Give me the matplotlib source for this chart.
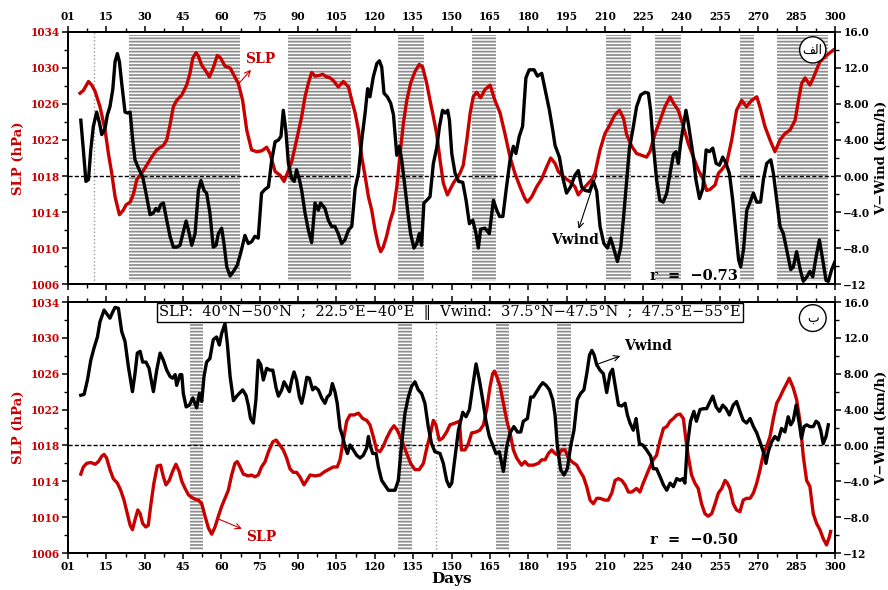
import matplotlib
matplotlib.use("Agg")
from matplotlib import pyplot as plt
from matplotlib.ticker import FixedLocator, FixedFormatter, MultipleLocator

RED = "#c80000"

# day ticks (the first one is printed as "01")
day_ticks = [0, 15, 30, 45, 60, 75, 90, 105, 120, 135, 150, 165, 180, 195, 210, 225, 240, 255, 270, 285, 300]
day_labels = ["01", "15", "30", "45", "60", "75", "90", "105", "120", "135", "150",
              "165", "180", "195", "210", "225", "240", "255", "270", "285", "300"]
slp_ticks = [1006, 1010, 1014, 1018, 1022, 1026, 1030, 1034]
vw_ticks = [-12, -8, -4, 0, 4, 8, 12, 16]
vw_labels = ["\u221212", "\u22128.0", "\u22124.0", "0.00", "4.00", "8.00", "12.0", "16.0"]

# ---- panel (a) ----
top_slp_days = [4.7, 6.0, 8.0, 9.3, 10.6, 12.5, 14.5, 15.8, 17.1, 18.4, 20.1, 21.6, 22.7, 24.3, 25.6,
                26.9, 28.8, 30.8, 32.7, 34.7, 37.3, 38.6, 39.9, 41.2, 42.5, 44.5, 46.4, 47.7, 48.8,
                50.1, 51.0, 52.3, 53.6, 55.3, 56.8, 58.4, 59.7, 61.4, 63.4, 65.3, 66.6, 68.3, 69.9,
                71.8, 73.8, 75.8, 77.7, 79.0, 81.0, 82.9, 84.5, 85.5, 87.5, 89.4, 91.4, 92.7, 94.0,
                95.3, 96.6, 98.6, 99.6, 101.2, 102.5, 103.8, 105.7, 107.7, 109.7, 111.0, 112.3,
                113.6, 114.9, 116.2, 117.5, 118.8, 120.1, 121.4, 122.3, 123.3, 124.6, 125.9, 127.3,
                128.6, 129.9, 131.2, 132.5, 134.0, 135.7, 137.4, 138.7, 140.3, 141.6, 142.9, 144.2,
                145.5, 146.8, 148.4, 150.7, 153.3, 154.6, 156.0, 157.3, 158.5, 159.8, 161.4, 163.1,
                165.1, 167.0, 169.0, 170.9, 172.9, 174.8, 176.8, 178.7, 179.7, 181.4, 183.3, 185.3,
                187.2, 188.8, 190.5, 191.8, 193.7, 196.3, 198.3, 199.6, 200.9, 202.9, 204.8, 206.1,
                208.1, 210.0, 212.0, 213.9, 215.7, 217.3, 218.5, 220.5, 222.4, 224.4, 226.3, 227.6,
                229.6, 231.6, 233.5, 235.5, 236.8, 238.7, 240.7, 242.6, 244.6, 246.5, 248.5, 249.8,
                251.1, 253.1, 254.4, 255.7, 257.6, 259.6, 261.5, 263.5, 265.4, 267.4, 269.4, 270.6,
                272.6, 274.6, 276.5, 278.5, 280.4, 282.4, 284.4, 285.7, 287.0, 288.3, 290.2, 291.5,
                292.8, 294.1, 296.7, 299.4]
top_slp = [1027.2, 1027.5, 1028.5, 1028.1, 1027.4, 1025.7, 1023.1, 1020.5, 1018.3, 1015.7, 1013.7,
           1014.2, 1014.8, 1015.1, 1016.0, 1017.6, 1018.3, 1019.2, 1020.1, 1020.9, 1021.4, 1022.0,
           1023.7, 1025.7, 1026.4, 1027.0, 1028.1, 1029.4, 1031.1, 1031.7, 1031.3, 1030.3, 1029.8,
           1029.0, 1030.0, 1031.4, 1031.1, 1030.2, 1030.0, 1029.0, 1028.3, 1026.4, 1023.1, 1020.9,
           1020.7, 1020.8, 1021.2, 1020.5, 1018.5, 1018.1, 1017.4, 1018.1, 1019.6, 1022.0, 1024.6,
           1026.8, 1028.3, 1029.5, 1029.1, 1029.2, 1029.3, 1029.0, 1028.9, 1028.6, 1027.9, 1028.5,
           1027.9, 1026.4, 1025.0, 1023.1, 1020.1, 1018.0, 1015.7, 1014.2, 1012.0, 1010.3, 1009.6,
           1010.1, 1011.3, 1012.9, 1014.2, 1016.8, 1020.5, 1023.9, 1026.4, 1028.3, 1029.6, 1030.4,
           1030.1, 1028.3, 1026.4, 1024.6, 1022.7, 1019.8, 1017.2, 1015.9, 1017.2, 1018.3, 1019.2,
           1022.0, 1025.0, 1026.8, 1027.3, 1026.7, 1027.6, 1028.1, 1026.4, 1025.0, 1022.7, 1020.1,
           1018.3, 1016.8, 1015.5, 1015.1, 1015.7, 1016.8, 1017.7, 1019.0, 1020.0, 1019.4, 1018.5,
           1017.9, 1017.4, 1016.8, 1015.9, 1016.4, 1017.0, 1017.6, 1018.3, 1020.9, 1022.7, 1023.7,
           1024.8, 1025.3, 1024.4, 1022.6, 1021.3, 1020.5, 1020.3, 1020.1, 1020.7, 1022.7, 1024.2,
           1025.7, 1026.8, 1026.1, 1025.3, 1023.5, 1021.6, 1020.1, 1018.7, 1017.6, 1016.4, 1016.5,
           1017.0, 1018.3, 1018.7, 1019.4, 1022.0, 1025.3, 1026.4, 1025.7, 1026.4, 1026.8, 1025.7,
           1023.5, 1022.0, 1020.7, 1022.0, 1022.7, 1023.1, 1024.2, 1026.4, 1028.3, 1028.9, 1028.1,
           1028.9, 1029.8, 1030.7, 1031.4, 1032.0]

top_vw_days = [5.0, 6.0, 7.0, 8.0, 8.9, 9.9, 11.2, 12.3, 13.2, 14.5, 15.4, 16.4, 17.5, 18.4, 19.3,
               20.1, 21.0, 22.3, 23.2, 24.3, 25.3, 26.2, 27.5, 29.2, 30.5, 32.1, 33.4, 34.4, 35.3,
               36.2, 37.3, 38.6, 39.9, 41.2, 42.5, 43.8, 45.1, 46.2, 47.1, 48.4, 49.7, 51.0, 52.0,
               53.2, 54.2, 55.5, 56.8, 57.9, 58.8, 60.1, 61.0, 62.1, 63.4, 64.7, 66.2, 67.5, 69.2,
               70.5, 71.8, 73.1, 74.4, 75.7, 77.0, 78.4, 79.7, 81.0, 82.3, 83.3, 84.2, 85.2, 86.2,
               87.5, 88.5, 89.4, 90.5, 91.4, 92.7, 94.0, 95.3, 96.6, 97.9, 98.8, 100.5, 101.8, 103.1,
               104.4, 105.7, 107.0, 108.3, 109.7, 111.0, 112.3, 113.6, 114.9, 116.2, 117.2, 118.1,
               119.4, 120.8, 121.8, 122.7, 123.6, 124.9, 126.2, 127.3, 127.9, 128.6, 129.6, 130.5,
               131.8, 133.1, 134.0, 135.3, 136.4, 137.4, 138.3, 139.2, 140.3, 141.6, 142.9, 144.2,
               145.3, 146.5, 147.6, 148.5, 149.2, 150.1, 151.4, 152.8, 154.4, 155.7, 157.0, 158.3, 159.6,
               160.5, 161.4, 163.1, 164.8, 166.4, 167.7, 168.8, 170.1, 171.3, 172.9, 174.2, 175.2,
               176.5, 177.8, 179.1, 180.4, 182.3, 183.6, 185.3, 186.9, 188.3, 189.6, 190.5, 192.2,
               193.7, 195.0, 196.6, 198.3, 199.6, 200.9, 202.2, 203.9, 205.5, 206.8, 208.1, 209.6,
               211.0, 212.2, 213.3, 214.9, 216.2, 217.2, 218.3, 219.6, 220.9, 222.4, 224.0, 225.7,
               227.0, 227.9, 228.9, 230.2, 231.5, 232.8, 234.2, 235.5, 236.8, 237.8, 238.7, 239.6,
               240.7, 241.7, 242.6, 243.6, 244.6, 245.6, 247.0, 248.3, 249.6, 250.9, 252.2, 253.5,
               254.8, 256.1, 257.4, 258.7, 260.0, 261.3, 262.3, 263.1, 264.2, 265.5, 266.8, 268.1,
               269.4, 270.9, 272.0, 273.3, 274.9, 275.9, 277.2, 278.5, 279.8, 281.1, 282.7, 283.7,
               285.0, 286.4, 287.6, 289.0, 290.2, 291.3, 292.6, 293.9, 295.2, 296.5, 297.4, 298.7,
               300.0]
top_vw = [6.2, 2.9, -0.6, -0.4, 2.9, 5.5, 7.1, 5.9, 4.6, 5.3, 6.8, 7.7, 9.6, 12.7, 13.6, 12.7, 10.3,
          7.1, 7.0, 7.1, 4.0, 1.8, 0.9, -0.1, -1.9, -4.3, -4.1, -3.6, -3.9, -3.2, -3.0, -4.9, -6.7,
          -7.9, -7.9, -7.7, -6.2, -5.0, -6.0, -7.7, -6.4, -1.6, -0.5, -1.6, -1.9, -4.1, -7.9, -7.7,
          -6.4, -5.8, -7.5, -10.1, -11.1, -10.6, -9.9, -8.6, -6.6, -7.5, -7.3, -6.7, -6.9, -1.9,
          -1.5, -1.2, 1.8, 3.8, 4.0, 4.4, 7.3, 5.1, 1.4, -0.3, -0.6, 0.7, -0.4, -1.6, -4.1, -6.0,
          -7.4, -3.0, -3.8, -3.0, -3.6, -4.9, -5.6, -5.6, -6.4, -7.5, -7.1, -6.0, -5.6, -1.4, 0.3,
          4.0, 7.0, 9.7, 8.8, 11.0, 12.5, 12.8, 12.1, 9.2, 8.8, 8.1, 6.8, 4.7, 2.3, 3.3, 1.8, -1.2,
          -4.5, -6.4, -8.0, -7.5, -6.4, -7.7, -3.0, -2.7, -2.3, 1.4, 3.1, 5.5, 7.3, 7.0, 7.3, 6.2,
          2.5, 0.3, -0.6, -0.7, -2.7, -5.3, -4.9, -6.4, -8.0, -5.9, -5.8, -6.4, -2.7, -3.8, -4.5,
          -4.5, -1.7, 1.8, 3.3, 2.5, 4.4, 5.5, 10.9, 11.8, 11.8, 11.1, 11.4, 9.2, 7.3, 5.1, 3.4,
          2.1, -0.4, -1.9, -1.2, 0.1, 0.6, -1.2, -1.6, -1.7, -0.6, -1.7, -5.6, -7.5, -8.0, -6.9,
          -7.9, -9.5, -7.9, -4.9, -1.2, 3.1, 5.1, 7.7, 9.0, 9.3, 9.2, 7.3, 3.6, -0.4, -2.7, -2.9,
          -1.9, 0.3, 2.4, 2.7, 1.4, 3.6, 5.5, 7.3, 5.9, 4.0, 2.1, -0.4, -2.5, -1.4, 2.9, 2.7, 3.1,
          1.4, 1.2, 2.1, 1.4, 0.3, -2.7, -6.4, -9.3, -10.1, -8.2, -3.8, -2.9, -1.9, -2.9, -2.9,
          -0.4, 1.4, 1.8, 0.3, -2.7, -5.6, -6.4, -8.2, -10.4, -10.1, -8.4, -10.4, -11.7, -11.2,
          -10.6, -11.2, -9.0, -7.1, -9.3, -11.6, -11.7, -10.4, -9.5]

# ---- panel (b) ----
bot_slp_days = [5.0, 6.0, 7.3, 8.9, 10.6, 11.9, 13.2, 14.1, 15.1, 16.4, 17.7, 19.3, 20.6, 21.9, 23.2,
                24.3, 25.2, 26.2, 27.3, 28.2, 29.2, 30.4, 31.4, 32.3, 33.6, 34.9, 36.2, 37.3, 38.3,
                39.6, 40.9, 42.2, 43.5, 44.5, 45.8, 47.1, 48.4, 49.7, 51.0, 52.3, 53.6, 54.9, 56.2,
                57.5, 58.8, 60.1, 61.4, 62.7, 64.0, 65.3, 66.2, 67.3, 68.6, 70.5, 71.8, 73.1, 74.4,
                75.7, 77.1, 78.4, 80.1, 81.4, 82.7, 84.2, 85.5, 86.8, 88.1, 89.4, 90.7, 92.3, 93.4,
                94.7, 96.6, 98.6, 100.5, 102.5, 103.8, 105.3, 106.4, 107.7, 109.0, 110.3, 111.9,
                113.6, 115.3, 116.8, 118.1, 119.4, 120.7, 122.0, 123.3, 124.6, 126.2, 127.5, 128.8,
                130.5, 132.2, 134.0, 135.7, 137.4, 139.0, 140.5, 141.9, 142.9, 143.9, 145.2, 146.5,
                148.1, 149.4, 151.4, 153.1, 153.9, 155.3, 156.6, 157.9, 159.6, 161.1, 162.5, 163.8,
                165.1, 166.1, 166.8, 167.7, 169.0, 170.3, 171.6, 172.9, 174.2, 175.5, 177.4, 178.7,
                180.0, 182.0, 184.0, 185.3, 186.6, 187.9, 189.2, 190.5, 191.8, 193.1, 194.4, 195.7,
                197.0, 199.0, 200.3, 201.6, 202.9, 204.2, 205.5, 206.8, 208.1, 210.0, 211.3, 212.7,
                214.0, 215.3, 216.6, 217.9, 219.2, 220.5, 222.4, 223.7, 225.0, 226.3, 227.6, 228.9,
                230.2, 231.6, 232.9, 234.2, 235.5, 236.8, 238.1, 239.4, 240.7, 241.7, 242.6, 243.9,
                245.2, 246.5, 247.8, 249.1, 250.4, 251.8, 253.1, 254.4, 255.7, 257.0, 257.9, 258.9,
                260.2, 261.5, 262.8, 264.1, 265.4, 266.8, 268.1, 269.4, 270.7, 272.0, 273.3, 274.6,
                275.9, 277.2, 278.5, 279.8, 281.1, 282.1, 283.7, 285.0, 286.4, 287.6, 288.9, 290.2,
                291.5, 292.8, 294.1, 295.4, 296.7, 297.8, 298.3]
bot_slp = [1014.8, 1015.6, 1016.0, 1016.1, 1015.9, 1016.2, 1016.8, 1017.0, 1016.6, 1015.3, 1014.3,
           1013.8, 1013.0, 1011.9, 1010.4, 1009.1, 1008.6, 1009.7, 1010.8, 1010.4, 1009.3, 1008.9,
           1009.1, 1011.2, 1013.8, 1015.7, 1015.8, 1014.5, 1013.6, 1014.1, 1015.1, 1015.9, 1015.1,
           1014.0, 1013.2, 1012.5, 1012.2, 1012.0, 1011.9, 1011.5, 1010.1, 1008.8, 1008.1, 1008.9,
           1010.1, 1011.2, 1012.1, 1013.0, 1014.7, 1016.0, 1016.2, 1015.6, 1014.8, 1014.6, 1014.7,
           1014.5, 1014.7, 1015.6, 1016.2, 1017.3, 1018.4, 1018.6, 1018.1, 1017.5, 1016.6, 1015.4,
           1015.0, 1015.0, 1014.5, 1013.6, 1014.1, 1014.7, 1014.6, 1014.7, 1015.1, 1015.4, 1015.6,
           1015.6, 1016.4, 1018.6, 1020.7, 1021.4, 1021.4, 1021.6, 1021.0, 1020.8, 1020.3, 1019.0,
           1017.5, 1017.3, 1017.9, 1018.8, 1019.7, 1020.2, 1019.7, 1018.6, 1017.3, 1016.0, 1015.3,
           1015.3, 1016.0, 1017.9, 1019.5, 1020.8, 1020.3, 1018.6, 1018.8, 1019.5, 1020.3, 1020.5,
           1020.7, 1017.5, 1017.5, 1018.2, 1019.4, 1019.5, 1019.7, 1020.3, 1022.1, 1024.6, 1026.0,
           1026.3, 1025.7, 1024.6, 1022.7, 1020.8, 1019.4, 1017.5, 1016.6, 1015.8, 1016.2, 1015.8,
           1015.8, 1016.0, 1016.4, 1016.4, 1017.1, 1017.5, 1017.1, 1016.9, 1017.5, 1017.5, 1016.6,
           1016.2, 1015.8, 1015.1, 1014.5, 1013.4, 1011.9, 1011.5, 1012.1, 1012.1, 1011.9, 1011.9,
           1012.7, 1014.1, 1014.3, 1014.1, 1013.6, 1012.8, 1012.8, 1013.2, 1012.8, 1013.8, 1014.7,
           1015.6, 1016.4, 1016.9, 1018.6, 1019.9, 1020.1, 1020.7, 1021.0, 1021.4, 1021.5, 1021.0,
           1018.6, 1016.8, 1014.7, 1013.8, 1013.2, 1011.5, 1010.4, 1010.1, 1010.4, 1011.5, 1012.7,
           1013.2, 1014.1, 1013.8, 1013.2, 1011.5, 1010.8, 1010.6, 1011.9, 1012.1, 1012.1, 1012.7,
           1013.8, 1015.3, 1017.1, 1017.9, 1019.0, 1021.0, 1022.7, 1023.4, 1024.2, 1024.9, 1025.5,
           1024.4, 1023.1, 1020.5, 1016.8, 1014.1, 1013.4, 1010.4, 1009.3, 1008.6, 1007.6, 1006.9,
           1007.8, 1008.4]

bot_vw_days = [5.0, 6.3, 7.6, 8.9, 10.2, 11.5, 12.5, 14.1, 15.1, 16.4, 17.5, 18.4, 19.7, 21.0, 22.3,
               23.6, 25.2, 26.2, 27.1, 28.2, 29.2, 30.5, 31.7, 32.7, 33.4, 34.7, 36.0, 37.3, 38.6,
               39.9, 40.9, 41.9, 42.5, 43.8, 44.5, 45.1, 46.2, 47.5, 48.8, 50.3, 51.4, 52.3, 53.2,
               54.2, 55.5, 56.8, 58.1, 59.2, 60.1, 61.4, 62.3, 63.4, 64.7, 66.0, 67.0, 68.3, 69.6,
               70.5, 71.4, 72.5, 73.5, 74.4, 75.4, 76.4, 77.7, 79.0, 80.1, 81.4, 82.3, 83.6, 84.5,
               85.5, 86.6, 87.5, 88.4, 89.4, 90.5, 91.4, 92.3, 93.4, 94.4, 95.7, 96.6, 97.9, 99.2,
               100.5, 101.4, 102.5, 103.4, 104.4, 105.3, 106.4, 107.4, 108.3, 109.3, 110.3, 111.6,
               112.9, 114.2, 115.5, 116.8, 117.5, 118.1, 119.2, 120.5, 121.4, 122.7, 123.9, 125.3,
               126.6, 127.9, 129.2, 130.5, 131.8, 133.1, 134.4, 135.7, 137.0, 138.3, 139.6, 140.9,
               142.2, 143.5, 145.5, 146.8, 148.1, 149.2, 150.1, 151.4, 152.7, 154.4, 155.7, 157.0,
               158.3, 159.6, 160.9, 162.2, 163.5, 164.8, 166.1, 167.4, 168.7, 170.3, 171.6, 172.9,
               174.4, 175.8, 177.1, 178.1, 179.7, 181.0, 182.0, 183.3, 184.6, 185.7, 187.0, 188.3,
               189.6, 190.5, 191.4, 192.7, 194.0, 195.3, 196.6, 197.9, 199.2, 200.5, 201.8, 202.9,
               204.0, 204.9, 205.8, 206.8, 208.1, 209.4, 210.7, 212.0, 213.0, 213.9, 215.3, 216.6,
               217.9, 218.8, 219.8, 221.1, 222.2, 223.5, 224.8, 226.3, 227.9, 228.9, 230.2, 231.6,
               232.9, 234.2, 235.5, 236.8, 238.1, 239.4, 240.5, 241.3, 242.2, 243.5, 244.8, 245.8,
               247.2, 248.5, 249.8, 250.8, 252.2, 253.5, 254.8, 256.1, 257.4, 258.7, 260.2, 261.5,
               262.8, 264.1, 265.4, 266.8, 268.1, 269.4, 270.9, 272.2, 273.0, 273.9, 275.2, 276.5,
               277.8, 279.1, 280.4, 281.7, 282.7, 283.7, 284.8, 286.0, 286.9, 287.9, 288.9, 290.2,
               291.5, 292.6, 293.5, 294.4, 295.4, 296.5, 297.4]
bot_vw = [5.6, 5.7, 7.3, 9.5, 10.9, 12.1, 13.8, 15.1, 14.7, 14.2, 14.9, 15.4, 15.3, 12.7, 11.6, 8.8,
          6.0, 8.0, 10.3, 10.5, 9.3, 9.3, 8.6, 7.1, 6.0, 8.4, 10.3, 9.5, 8.4, 7.7, 7.5, 7.9, 6.7,
          7.9, 7.9, 5.8, 4.3, 4.5, 5.3, 4.2, 5.8, 4.9, 7.7, 9.3, 9.7, 11.8, 12.1, 11.2, 12.5, 13.6,
          11.4, 7.7, 5.0, 5.5, 5.8, 6.2, 5.6, 4.5, 3.0, 2.5, 5.1, 9.5, 9.0, 7.3, 8.6, 8.4, 8.4, 6.4,
          5.5, 6.2, 7.1, 6.6, 6.0, 7.3, 8.2, 7.3, 5.4, 4.7, 5.8, 7.6, 7.5, 6.2, 6.5, 6.2, 5.3, 4.7,
          5.4, 5.7, 6.9, 6.0, 4.7, 1.9, 1.0, -0.1, -0.9, 0.05, -0.5, -1.1, -1.4, -1.1, -0.3, 1.0,
          0.05, -0.9, -0.9, -2.4, -3.9, -4.4, -5.0, -5.0, -5.0, -3.9, 0.2, 3.6, 5.4, 6.6, 7.1, 6.2,
          5.8, 4.7, 2.1, 0.2, -0.7, -0.9, -2.0, -3.9, -4.6, -4.2, -1.2, 1.7, 3.7, 3.2, 4.0, 6.6,
          9.1, 7.3, 5.1, 2.7, 1.0, 0.05, -0.9, -0.7, -2.9, -0.1, 1.4, 2.1, 1.5, 1.5, 2.7, 3.0, 5.4,
          5.4, 6.0, 6.6, 7.0, 6.7, 6.2, 5.1, 3.4, -0.1, -2.7, -3.3, -2.6, -0.1, 1.7, 5.1, 5.8, 6.2,
          8.0, 10.1, 10.6, 10.1, 9.0, 8.4, 8.0, 5.9, 8.0, 8.5, 6.9, 4.5, 4.4, 4.7, 3.4, 2.5, 1.7,
          3.0, 0.2, 0.05, -0.5, -1.2, -2.6, -2.6, -3.5, -4.4, -5.0, -4.2, -4.6, -3.7, -3.9, -3.7,
          -4.2, -0.1, 2.7, 3.8, 2.7, 4.0, 4.1, 4.1, 4.7, 5.5, 4.3, 3.8, 4.5, 4.1, 3.4, 4.5, 4.9,
          3.8, 2.8, 2.5, 3.0, 2.1, 1.4, 0.2, -0.9, -2.0, -0.7, 0.4, 1.0, 0.6, 1.9, 1.5, 3.2, 2.3,
          2.8, 4.5, 2.5, 0.8, 2.1, 2.3, 2.1, 2.1, 2.7, 2.5, 1.7, 0.2, 1.0, 2.3]

# shaded (hatched) periods
top_shade = [(24, 67.3), (86.2, 110.5), (129.2, 139.2), (157.9, 167.6), (210.4, 220.4),
             (229.6, 239.6), (263, 268.3), (277.4, 297.1)]
bot_shade = [(47.7, 52.9), (129.2, 134.4), (167.4, 172.6), (191.4, 196.6)]

plt.rcParams["font.family"] = "DejaVu Serif"
plt.rcParams["hatch.linewidth"] = 1.3
plt.rcParams["hatch.color"] = "#8f8f8f"


def setup_panel(ax, labeltop):
    ax.set_xlim(0, 300)
    ax.set_ylim(1006, 1034)
    ax.xaxis.set_major_locator(FixedLocator(day_ticks))
    ax.xaxis.set_major_formatter(FixedFormatter(day_labels))
    ax.xaxis.set_minor_locator(MultipleLocator(7.5))
    ax.set_yticks(slp_ticks)
    ax.yaxis.set_minor_locator(MultipleLocator(2))
    ax.tick_params(axis="x", which="both", top=True, bottom=True,
                   labeltop=labeltop, labelbottom=not labeltop)
    ax.tick_params(which="major", direction="out", length=4, width=1.1, labelsize=7.6, pad=2)
    ax.tick_params(which="minor", direction="out", length=3, width=1.0)
    if labeltop:
        ax.tick_params(axis="x", pad=3)
    ax.tick_params(axis="y", labelcolor=RED)
    for lab in ax.get_xticklabels() + ax.get_yticklabels():
        lab.set_fontweight("bold")
    for s in ax.spines.values():
        s.set_linewidth(1.4)
    ax.set_ylabel("SLP (hPa)", color=RED, fontweight="bold", fontsize=9.5, labelpad=4)
    ax.axhline(1018, color="black", linestyle=(0, (3, 1.5)), linewidth=1.0, zorder=3)

    axr = ax.twinx()
    axr.set_ylim(-12, 16)
    axr.set_yticks(vw_ticks)
    axr.set_yticklabels(vw_labels)
    axr.yaxis.set_minor_locator(MultipleLocator(2))
    axr.tick_params(which="major", direction="out", length=4, width=1.1, labelsize=7.6, pad=2)
    axr.tick_params(which="minor", direction="out", length=3, width=1.0)
    for lab in axr.get_yticklabels():
        lab.set_fontweight("bold")
    for s in axr.spines.values():
        s.set_linewidth(1.4)
    axr.set_ylabel("V\u2212Wind (km/h)", fontweight="bold", fontsize=9.5, labelpad=3)
    return axr


fig = plt.figure(figsize=(8.88, 5.90), dpi=100)

# ---------------- top panel ----------------
ax1 = fig.add_axes([0.0766, 0.5186, 0.8637, 0.4272])
ax1r = setup_panel(ax1, labeltop=True)
for a, b in top_shade:
    ax1.axvspan(a, b, ymin=0.012, ymax=0.988, facecolor="none", edgecolor="#8f8f8f",
                hatch="-----", linewidth=0, zorder=1)
ax1.axvline(10, color="#999999", linestyle=":", linewidth=1.0, zorder=1)
ax1.plot(top_slp_days, top_slp, color=RED, linewidth=2.4, zorder=4)
ax1r.plot(top_vw_days, top_vw, color="black", linewidth=2.4, zorder=4)

ax1.annotate("SLP", xy=(66.9, 1028.3), xytext=(75.3, 1031.0), color=RED, fontsize=10,
             fontweight="bold", ha="center", va="center",
             arrowprops=dict(arrowstyle="<-", color=RED, lw=0.8, shrinkA=1, shrinkB=0))
ax1r.annotate("Vwind", xy=(206.8, 0.2), xytext=(198.3, -7.1), fontsize=10,
              fontweight="bold", ha="center", va="center",
              arrowprops=dict(arrowstyle="<-", color="black", lw=0.8, shrinkA=1, shrinkB=0))
ax1r.text(244.8, -11.1, "r  =  \u22120.73", fontsize=10.5, fontweight="bold",
          ha="center", va="center")
ax1r.text(0.971, 0.929, "\ufed2\ufedf\ufe8d", transform=ax1r.transAxes, family="DejaVu Sans",
          fontsize=9, ha="center", va="center", zorder=10,
          bbox=dict(boxstyle="circle,pad=0.25", fc="white", ec="black", lw=1.0))

# ---------------- bottom panel ----------------
ax2 = fig.add_axes([0.0766, 0.0627, 0.8637, 0.4254])
ax2r = setup_panel(ax2, labeltop=False)
for a, b in bot_shade:
    ax2.axvspan(a, b, ymin=0.012, ymax=0.92, facecolor="none", edgecolor="#8f8f8f",
                hatch="-----", linewidth=0, zorder=1)
ax2.axvline(144, color="#999999", linestyle=":", linewidth=1.0, zorder=1)
ax2.plot(bot_slp_days, bot_slp, color=RED, linewidth=2.4, zorder=4)
ax2r.plot(bot_vw_days, bot_vw, color="black", linewidth=2.4, zorder=4)
ax2.set_xlabel("Days", fontweight="bold", fontsize=11, labelpad=0)

ax2.annotate("SLP", xy=(58.8, 1009.8), xytext=(75.5, 1007.8), color=RED, fontsize=10,
             fontweight="bold", ha="center", va="center",
             arrowprops=dict(arrowstyle="<-", color=RED, lw=0.8, shrinkA=1, shrinkB=0))
ax2r.annotate("Vwind", xy=(207.4, 9.1), xytext=(227.0, 11.1), fontsize=10,
              fontweight="bold", ha="center", va="center",
              arrowprops=dict(arrowstyle="<-", color="black", lw=0.8, shrinkA=1, shrinkB=0))
ax2r.text(244.8, -10.6, "r  =  \u22120.50", fontsize=10.5, fontweight="bold",
          ha="center", va="center")
ax2r.text(0.971, 0.936, "\ufe8f", transform=ax2r.transAxes, family="DejaVu Sans",
          fontsize=9, ha="center", va="center", zorder=10,
          bbox=dict(boxstyle="circle,pad=0.55", fc="white", ec="black", lw=1.0))
ax2r.text(0.498, 0.958,
          "SLP:  40\u00b0N\u221250\u00b0N  ;  22.5\u00b0E\u221240\u00b0E  \u2016  "
          "Vwind:  37.5\u00b0N\u221247.5\u00b0N  ;  47.5\u00b0E\u221255\u00b0E",
          transform=ax2r.transAxes, fontsize=10.5, ha="center", va="center", zorder=10,
          bbox=dict(boxstyle="square,pad=0.15", fc="white", ec="black", lw=1.0))

fig.savefig("out.png", dpi=100)
